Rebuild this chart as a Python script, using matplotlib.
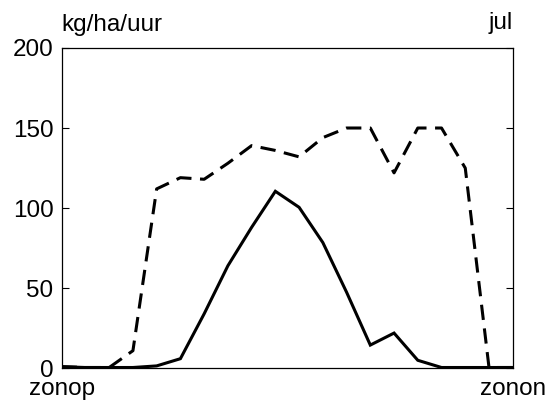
import numpy as np
import matplotlib
matplotlib.use('Agg')
import matplotlib.pyplot as plt

plt.rcParams['font.family'] = ['Liberation Sans', 'DejaVu Sans']

# hourly flux from sunrise (zonop) to sunset (zonon), July
hours = np.arange(20)
flux_max = [1, 0.5, 0.5, 11, 112, 119, 118, 128, 139, 136,
            132, 144, 150, 150, 122, 150, 150, 125, 0.5, 0.5]
flux_mean = [1, 0.5, 0.5, 0.5, 1.5, 6, 34, 64, 88, 110.5,
             100.5, 78.5, 47.5, 14.5, 22, 5, 0.5, 0.5, 0.5, 0.5]
y_ticks = [0, 50, 100, 150, 200]
x_labels = ['zonop', 'zonon']

fs = 17.5

fig = plt.figure(figsize=(5.53, 4.03), dpi=100)
ax = fig.add_axes([0.1116, 0.0861, 0.8156, 0.795])

ax.plot(hours, flux_max, color='black', lw=2.2, linestyle=(0, (5, 2.8)),
        dash_capstyle='butt')
ax.plot(hours, flux_mean, color='black', lw=2.2, solid_joinstyle='miter')

ax.set_xlim(0, 19)
ax.set_ylim(0, 200)
ax.set_yticks(y_ticks)
ax.set_xticks([0, 19])
ax.set_xticklabels(x_labels)
ax.tick_params(axis='y', direction='in', right=True, length=5, labelsize=fs, pad=6)
ax.tick_params(axis='x', length=0, labelsize=fs, pad=7)
for sp in ax.spines.values():
    sp.set_linewidth(0.9)

ax.text(0, 1.053, 'kg/ha/uur', transform=ax.transAxes, ha='left', va='baseline',
        fontsize=fs)
ax.text(1, 1.058, 'jul', transform=ax.transAxes, ha='right', va='baseline',
        fontsize=fs)

fig.savefig('out.png', dpi=100)
